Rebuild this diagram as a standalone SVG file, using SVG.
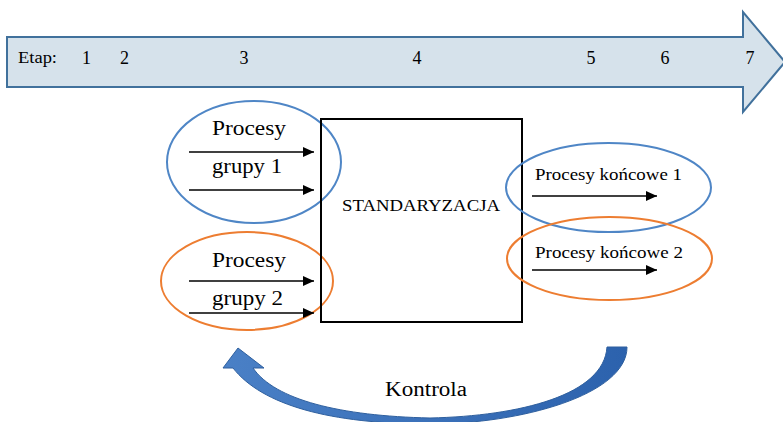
<svg xmlns="http://www.w3.org/2000/svg" width="783" height="422" viewBox="0 0 783 422">
<defs>
<style>
text{font-family:"Times New Roman","Liberation Serif",Tinos,"DejaVu Serif",serif;fill:#000}
.big{font-size:20px}
.mid{font-size:17.5px}
.blue{fill:none;stroke:#4f86c6;stroke-width:2}
.orange{fill:none;stroke:#ed7d31;stroke-width:2}
.conn{stroke:#000;stroke-width:1.3;fill:none;marker-end:url(#ah)}
</style>
<marker id="ah" viewBox="0 0 10 10" refX="10" refY="5" markerWidth="11" markerHeight="10" markerUnits="userSpaceOnUse" orient="auto" preserveAspectRatio="none">
<path d="M0 0 L10 5 L0 10 Z" fill="#000"/>
</marker>
<linearGradient id="kg" x1="0" y1="0" x2="1" y2="0">
<stop offset="0" stop-color="#4a80c6"/>
<stop offset="1" stop-color="#2c62ad"/>
</linearGradient>
</defs>
<g id="timeline">
<path d="M7 37 L743 37 L743 12 L785 62 L743 112 L743 87 L7 87 Z" fill="#d6e2eb" stroke="#41719c" stroke-width="2"/>
<text x="18" y="63.3" font-size="16" textLength="39" lengthAdjust="spacingAndGlyphs">Etap:</text>
<text x="86.5" y="63.5" font-size="18" text-anchor="middle">1</text>
<text x="124.5" y="63.5" font-size="18" text-anchor="middle">2</text>
<text x="244" y="63.5" font-size="18" text-anchor="middle">3</text>
<text x="417" y="63.5" font-size="18" text-anchor="middle">4</text>
<text x="591" y="63.5" font-size="18" text-anchor="middle">5</text>
<text x="665" y="63.5" font-size="18" text-anchor="middle">6</text>
<text x="750" y="63.5" font-size="18" text-anchor="middle">7</text>
</g>
<g id="group1">
<ellipse class="blue" cx="254" cy="162" rx="87" ry="61"/>
<text class="big" x="212" y="135" textLength="74" lengthAdjust="spacingAndGlyphs">Procesy</text>
<text class="big" x="212" y="173" textLength="70" lengthAdjust="spacingAndGlyphs">grupy 1</text>
</g>
<g id="group2">
<ellipse class="orange" cx="247" cy="281" rx="86" ry="49"/>
<text class="big" x="212" y="267" textLength="74" lengthAdjust="spacingAndGlyphs">Procesy</text>
<text class="big" x="212" y="305" textLength="71" lengthAdjust="spacingAndGlyphs">grupy 2</text>
</g>
<g id="standaryzacja">
<rect x="321" y="119" width="201" height="203" fill="none" stroke="#000" stroke-width="2"/>
<text x="342" y="211" font-size="17" textLength="158" lengthAdjust="spacingAndGlyphs">STANDARYZACJA</text>
</g>
<g id="final1">
<ellipse class="blue" cx="608.5" cy="187.5" rx="102.5" ry="44.5"/>
<text class="mid" x="535" y="180" textLength="147" lengthAdjust="spacingAndGlyphs">Procesy końcowe 1</text>
</g>
<g id="final2">
<ellipse class="orange" cx="609.5" cy="258.5" rx="102.5" ry="41.5"/>
<text class="mid" x="535" y="258" textLength="148" lengthAdjust="spacingAndGlyphs">Procesy końcowe 2</text>
</g>
<g id="kontrola">
<path d="M627 347 C627 395 520 424 430 424 C330 424 262 405 233 368 L223 368 L238 348 L264 368 L253 368 C275 400 340 416 430 418 C520 416 604 395 607 347 Z" fill="url(#kg)" stroke="#2e5f9e" stroke-width="1"/>
<text class="big" x="385" y="396" textLength="82" lengthAdjust="spacingAndGlyphs">Kontrola</text>
</g>
<g id="connectors">
<line class="conn" x1="189" y1="152" x2="314" y2="152"/>
<line class="conn" x1="189" y1="190" x2="314" y2="190"/>
<line class="conn" x1="189" y1="281" x2="314" y2="281"/>
<line class="conn" x1="189" y1="313" x2="314" y2="313"/>
<line class="conn" x1="532" y1="196" x2="657" y2="196"/>
<line class="conn" x1="532" y1="270" x2="657" y2="270"/>
</g>
</svg>
